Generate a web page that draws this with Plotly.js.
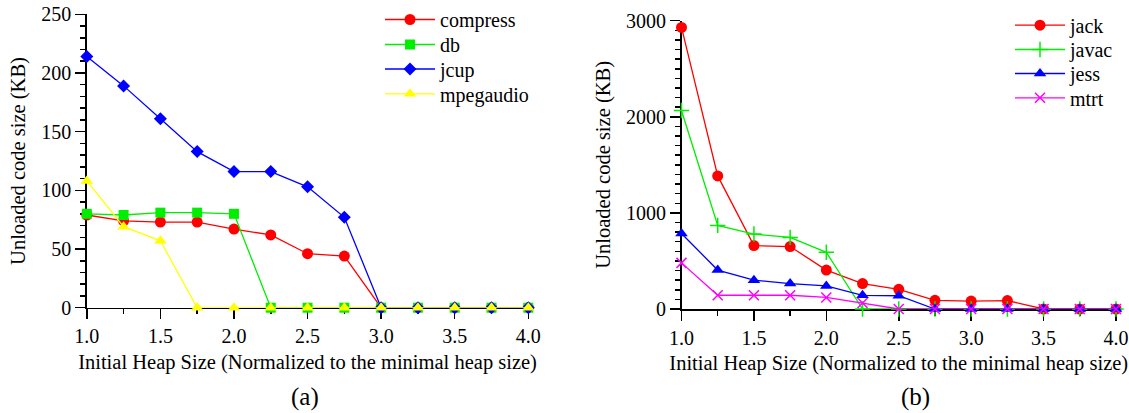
<!DOCTYPE html>
<html>
<head>
<meta charset="utf-8">
<script src="https://cdn.plot.ly/plotly-3.0.1.min.js"></script>
<style>html,body{margin:0;padding:0;background:#fff;}#chart{width:1129px;height:413px;}</style>
</head>
<body>
<div id="chart"></div>
<script>
// Heap sizes (normalized to minimal heap size)
const heapSizes = [1.0, 1.25, 1.5, 1.75, 2.0, 2.25, 2.5, 2.75, 3.0, 3.25, 3.5, 3.75, 4.0];
const xTickVals = [1.0, 1.5, 2.0, 2.5, 3.0, 3.5, 4.0];
const xTickText = ["1.0", "1.5", "2.0", "2.5", "3.0", "3.5", "4.0"];

// (a) Unloaded code size (KB)
const compress  = [79, 74, 73, 73, 67, 62, 46, 44, 0, 0, 0, 0, 0];
const db        = [80, 79, 81, 81, 80, 0, 0, 0, 0, 0, 0, 0, 0];
const jcup      = [214, 189, 161, 133, 116, 116, 103, 77, 0, 0, 0, 0, 0];
const mpegaudio = [108, 69, 57, 0, 0, 0, 0, 0, 0, 0, 0, 0, 0];

// (b) Unloaded code size (KB)
const jack  = [2930, 1385, 660, 650, 405, 265, 205, 90, 82, 88, 0, 0, 0];
const javac = [2065, 870, 780, 745, 590, 0, 0, 0, 0, 0, 0, 0, 0];
const jess  = [785, 405, 300, 265, 240, 142, 138, 0, 0, 0, 0, 0, 0];
const mtrt  = [480, 143, 143, 143, 120, 62, 0, 0, 0, 0, 0, 0, 0];

const FONT = "Liberation Serif";

function tr(name, y, color, symbol, size, xa, ya, leg) {
  const thin = (symbol === "cross-thin" || symbol === "x-thin");
  return {
    type: "scatter", mode: "lines+markers", name: name,
    x: heapSizes, y: y, xaxis: xa, yaxis: ya, legend: leg,
    line: {color: color, width: 1.3},
    marker: {color: color, symbol: symbol, size: size, line: {color: color, width: thin ? 1.5 : 0}},
    cliponaxis: false
  };
}

const data = [
  tr("compress", compress, "#ff0000", "circle", 11, "x", "y", "legend"),
  tr("db", db, "#00ee00", "square", 10, "x", "y", "legend2"),
  tr("jcup", jcup, "#0000ff", "diamond", 10, "x", "y", "legend3"),
  tr("mpegaudio", mpegaudio, "#ffff00", "triangle-up", 11, "x", "y", "legend4"),
  tr("jack", jack, "#ff0000", "circle", 11, "x2", "y2", "legend5"),
  tr("javac", javac, "#00ee00", "cross-thin", 11, "x2", "y2", "legend6"),
  tr("jess", jess, "#0000ff", "triangle-up", 11, "x2", "y2", "legend7"),
  tr("mtrt", mtrt, "#ff00ff", "x-thin", 10, "x2", "y2", "legend8")
];

function xAxis(domain, anchor) {
  return {
    domain: domain, anchor: anchor, range: [1, 4], showgrid: false, zeroline: false,
    showline: true, linecolor: "#000", linewidth: 1.5, layer: "below traces",
    ticks: "outside", ticklen: 10, tickwidth: 1.5, tickcolor: "#000",
    tickvals: xTickVals, ticktext: xTickText,
    minor: {dtick: 0.25, tick0: 1, ticks: "outside", ticklen: 5, tickwidth: 1.5, tickcolor: "#000", showgrid: false},
    tickfont: {family: FONT, size: 20, color: "#000"},
    title: {text: "Initial Heap Size (Normalized to the minimal heap size)", font: {family: FONT, size: 20.5, color: "#000"}, standoff: 8},
    automargin: false
  };
}
function yAxis(domain, anchor, range, dtick, minor) {
  return {
    domain: domain, anchor: anchor, range: range, showgrid: false, zeroline: false,
    showline: true, linecolor: "#000", linewidth: 1.5, layer: "below traces",
    ticks: "outside", ticklen: 10, tickwidth: 1.5, tickcolor: "#000",
    dtick: dtick, tick0: 0,
    minor: {dtick: minor, tick0: 0, ticks: "outside", ticklen: 5, tickwidth: 1.5, tickcolor: "#000", showgrid: false},
    tickfont: {family: FONT, size: 20, color: "#000"},
    title: {text: "Unloaded code size (KB)", font: {family: FONT, size: 20.5, color: "#000"}, standoff: 10},
    automargin: false
  };
}

function leg(xPx, rowPx) {
  return {
    x: xPx / 1129, y: 1 - (rowPx - 20) / 413,
    xanchor: "left", yanchor: "top", bgcolor: "rgba(0,0,0,0)", borderwidth: 0,
    font: {family: FONT, size: 20, color: "#000"}, tracegroupgap: 0, itemwidth: 50,
    itemclick: false, itemdoubleclick: false
  };
}

const layout = {
  width: 1129, height: 413,
  margin: {l: 0, r: 0, t: 0, b: 0},
  paper_bgcolor: "#fff", plot_bgcolor: "rgba(0,0,0,0)",
  font: {family: FONT},
  showlegend: true,
  xaxis: xAxis([86.8 / 1129, 528.3 / 1129], "y"),
  yaxis: yAxis([1 - 307.7 / 413, 1 - 14.3 / 413], "x", [0, 250], 50, 10),
  xaxis2: xAxis([681.5 / 1129, 1116 / 1129], "y2"),
  yaxis2: yAxis([1 - 309 / 413, 1 - 20.7 / 413], "x2", [0, 3000], 1000, 100),
  legend: leg(380, 20),
  legend2: leg(380, 45),
  legend3: leg(380, 69.5),
  legend4: leg(380, 94.3),
  legend5: leg(1010, 25.7),
  legend6: leg(1010, 50),
  legend7: leg(1010, 74),
  legend8: leg(1010, 98.3),
  annotations: [
    {text: "(a)", xref: "paper", yref: "paper", x: 305 / 1129, y: 1 - 397 / 413, xanchor: "center", yanchor: "middle", showarrow: false, font: {family: FONT, size: 25, color: "#000"}},
    {text: "(b)", xref: "paper", yref: "paper", x: 915 / 1129, y: 1 - 397 / 413, xanchor: "center", yanchor: "middle", showarrow: false, font: {family: FONT, size: 25, color: "#000"}}
  ]
};

Plotly.newPlot("chart", data, layout, {displayModeBar: false, staticPlot: true});
</script>
</body>
</html>
